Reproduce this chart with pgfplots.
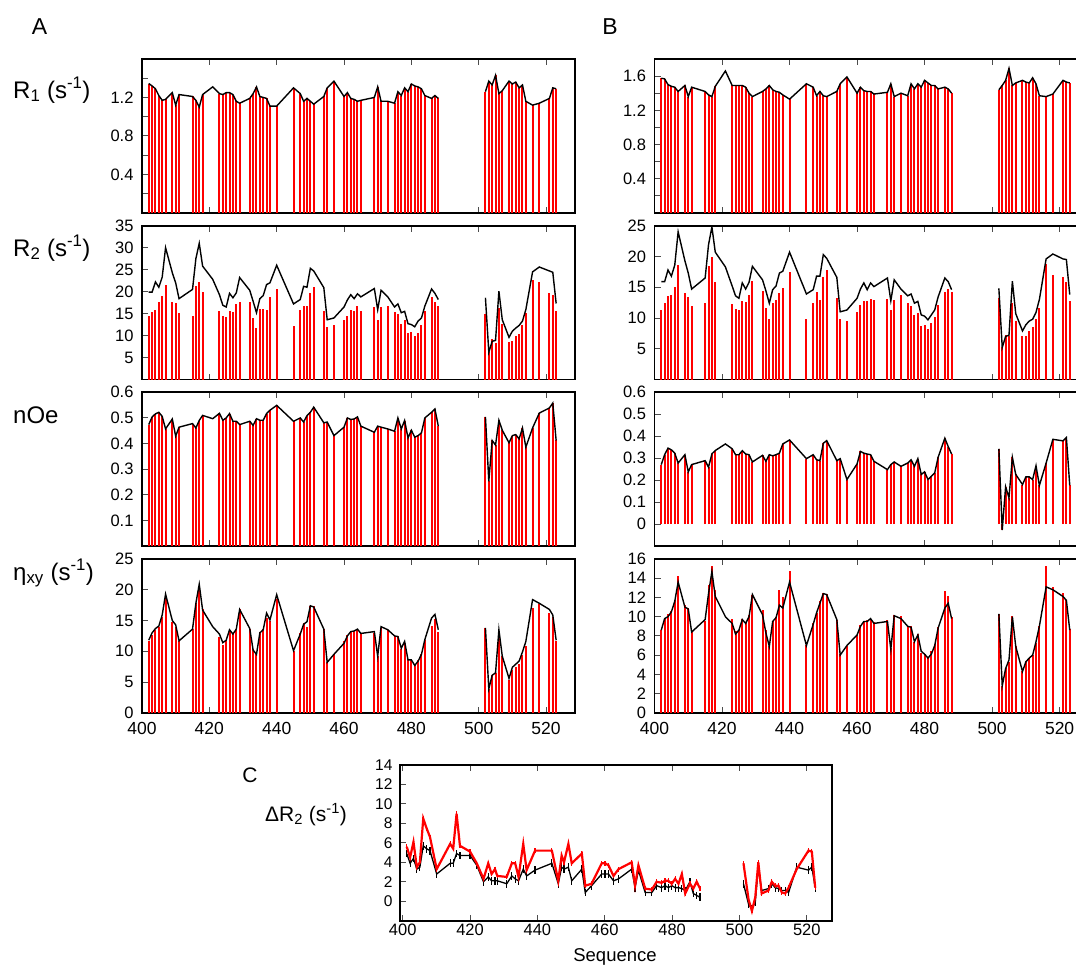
\documentclass[border=0pt]{standalone}
\usepackage{pgfplots}
\pgfplotsset{compat=1.18}
\usepackage{pgfplotstable}
\usepackage{fontspec}
\setmainfont{Liberation Sans}

\pgfplotstableread{
res R1A R2Ab R2Al nOeA EtaAb EtaAl R1B R2Bb R2Bl nOeB EtaBb EtaBl
402 1.345 14.4 19.9 0.474 11.6 11.8 1.575 11.3 15.9 0.271 8.6 8.6
403 1.32 15.4 19.9 0.504 12.6 13.0 1.567 12.4 15.9 0.316 9.8 9.8
404 1.29 15.9 22.2 0.516 13.5 13.7 1.50 13.6 17.8 0.346 10.3 10.0
405 1.22 17.7 21.0 0.522 13.9 14.1 1.48 13.8 16.8 0.338 10.6 10.5
406 1.17 19.1 23.3 0.506 15.5 15.9 1.47 15.0 18.6 0.323 11.7 11.6
407 1.18 21.6 30.0 0.457 18.9 19.3 1.42 18.6 24.0 0.278 14.2 13.6
409 1.25 17.6 24.3 0.496 14.7 15.0 1.49 14.0 19.3 0.316 11.2 11.0
410 1.12 17.4 22.0 0.429 14.0 14.3 1.36 13.4 17.3 0.238 10.9 10.8
411 1.23 15.2 18.4 0.464 11.6 11.7 1.47 12.0 14.7 0.271 8.5 8.4
415 1.21 14.4 20.5 0.478 13.6 13.6 1.42 12.5 16.5 0.289 9.6 9.7
416 1.17 21.2 27.5 0.461 17.8 17.8 1.38 18.4 21.9 0.259 13.3 12.4
417 1.10 22.2 31.0 0.490 20.5 20.9 1.36 19.9 24.8 0.320 15.3 14.7
418 1.23 19.9 25.8 0.510 16.8 16.7 1.48 15.9 20.7 0.335 12.8 12.1
421 1.31 nan 22.8 0.497 nan 14.0 1.66 nan 18.3 0.365 nan 10.0
423 1.24 15.6 19.3 0.518 12.3 12.8 1.49 12.2 15.2 0.343 9.8 9.3
424 1.23 14.4 16.9 0.491 11.0 11.4 1.49 11.5 13.6 0.316 8.5 8.2
425 1.25 14.2 16.5 0.500 11.9 11.8 1.49 11.3 13.2 0.316 8.6 8.6
426 1.25 15.7 19.6 0.517 13.5 13.5 1.49 12.8 15.7 0.334 9.8 9.7
427 1.23 15.3 18.6 0.487 12.9 12.8 1.47 12.6 14.7 0.319 9.4 9.3
428 1.16 17.1 19.7 0.487 13.6 13.6 1.40 13.7 15.8 0.316 10.2 10.0
429 1.14 17.7 23.2 0.474 16.8 16.8 1.36 16.0 18.4 0.283 12.3 12.3
432 1.19 17.7 20.3 0.487 13.7 13.7 1.42 14.4 16.2 0.313 10.7 10.2
433 1.24 13.9 17.8 0.471 10.3 10.2 1.45 11.6 14.4 0.286 8.6 8.3
434 1.31 11.7 15.2 0.497 9.5 9.5 1.49 9.8 12.4 0.316 6.9 6.9
435 1.21 16.1 18.4 0.491 13.2 13.0 1.44 12.5 14.6 0.311 9.5 9.5
436 1.20 16.1 19.1 0.491 13.7 13.5 1.42 13.0 15.2 0.316 10.0 9.9
437 1.19 15.9 21.6 0.517 15.4 16.2 1.41 14.1 17.3 0.323 12.8 11.2
438 1.11 18.7 22.0 0.530 15.0 15.1 1.38 14.8 17.6 0.365 12.0 10.9
440 1.11 20.7 26.0 0.549 18.5 19.2 1.33 17.4 20.7 0.383 14.8 13.6
445 1.30 12.1 17.2 0.487 10.1 10.1 1.51 9.8 13.9 0.298 7.1 7.0
447 1.24 15.9 18.2 0.500 12.9 12.8 1.47 12.5 14.6 0.316 9.3 9.2
448 1.16 16.8 21.2 0.484 14.6 14.4 1.37 14.3 16.8 0.293 10.4 10.4
449 1.19 16.7 21.0 0.509 13.9 14.8 1.42 12.9 16.8 0.289 11.6 11.4
450 1.16 19.7 25.3 0.522 17.3 17.4 1.37 16.7 20.3 0.368 12.5 12.4
451 1.13 21.0 24.7 0.542 17.3 17.2 1.36 17.8 19.7 0.380 12.4 12.3
454 1.21 15.7 20.9 0.481 13.6 13.6 1.42 13.3 16.6 0.289 9.7 9.7
455 1.30 12.0 13.6 0.484 8.2 8.2 1.51 9.8 11.0 0.298 6.1 6.0
457 1.37 12.3 14.0 0.431 9.5 9.5 1.59 9.5 11.3 0.203 7.0 7.0
460 1.21 13.5 16.5 0.464 11.7 11.3 1.40 11.0 13.2 0.274 8.1 8.1
461 1.25 14.4 18.1 0.500 12.6 12.5 1.47 12.1 14.7 0.331 9.1 9.0
462 1.19 15.8 19.3 0.494 13.3 13.2 1.43 12.8 15.7 0.323 9.5 9.5
463 1.18 15.5 18.4 0.496 13.3 13.3 1.42 12.8 14.6 0.319 9.7 9.5
464 1.16 16.8 19.5 0.504 13.5 13.6 1.42 13.1 15.7 0.316 9.8 9.8
465 1.17 15.7 18.8 0.468 12.9 12.9 1.39 12.9 15.1 0.286 9.4 9.3
469 1.20 16.5 20.7 0.444 13.0 13.2 1.41 13.1 16.5 0.248 9.7 9.5
470 1.31 13.6 15.9 0.468 9.2 9.2 1.51 11.3 12.8 0.271 6.7 6.6
471 1.16 16.5 20.3 0.464 13.8 14.0 1.36 12.9 16.2 0.283 10.2 10.1
473 1.16 16.8 18.8 0.457 13.5 13.5 1.40 13.8 14.7 0.263 10.1 9.8
475 1.14 15.3 16.5 0.448 12.5 12.5 1.37 12.5 13.6 0.278 9.0 9.0
476 1.26 15.0 17.2 0.500 12.5 12.4 1.51 12.0 13.9 0.293 9.0 8.9
477 1.22 12.7 15.2 0.457 10.3 10.5 1.45 10.5 12.4 0.263 7.4 7.4
478 1.30 13.5 15.5 0.490 11.3 11.6 1.51 10.8 12.7 0.298 8.2 8.1
479 1.26 10.6 12.7 0.422 8.7 8.6 1.47 8.7 10.5 0.226 6.2 6.4
480 1.34 10.8 12.5 0.452 8.6 8.6 1.55 8.9 10.3 0.238 6.1 6.1
481 1.32 10.0 12.0 0.425 7.8 7.7 1.52 8.2 9.7 0.203 5.7 5.7
482 1.31 10.6 13.3 0.431 8.6 8.4 1.49 9.2 10.5 0.218 6.4 6.1
483 1.29 12.3 14.0 0.442 9.6 9.5 1.49 10.1 11.3 0.233 7.2 7.0
484 1.22 15.5 16.7 0.500 11.8 11.9 1.45 12.1 13.4 0.304 8.9 8.8
486 1.19 18.8 20.6 0.522 14.1 15.4 1.47 14.3 16.5 0.391 12.7 10.9
487 1.22 17.6 19.6 0.535 15.2 16.0 1.45 14.7 15.9 0.353 12.2 11.4
488 1.19 16.8 18.2 0.468 13.2 13.5 1.40 14.2 14.6 0.319 10.0 9.8
495 nan nan nan nan nan nan nan nan nan nan nan nan
502 1.26 15.0 18.6 0.504 13.8 13.8 1.44 13.3 14.8 0.343 10.3 10.3
503 1.37 6.2 6.2 0.253 3.9 3.9 1.49 5.3 5.2 -0.027 2.8 2.8
504 1.33 9.3 8.7 0.412 6.1 6.1 1.55 7.2 7.0 0.170 4.7 4.6
505 1.43 8.3 8.9 0.394 6.4 6.5 1.69 7.0 7.2 0.120 5.3 5.5
506 1.24 16.3 20.1 0.491 13.3 13.5 1.49 12.5 16.0 0.304 10.1 10.0
507 1.27 12.7 13.6 0.452 9.2 9.2 1.52 9.5 10.7 0.226 6.9 6.9
509 1.37 8.5 9.6 0.403 5.4 5.6 1.55 7.0 7.9 0.180 4.3 4.3
510 1.34 8.8 11.0 0.431 7.0 7.4 1.53 7.1 8.9 0.215 5.4 5.3
511 1.36 9.8 11.7 0.435 7.5 7.9 1.52 7.9 9.5 0.215 5.7 5.7
512 1.30 10.4 12.3 0.418 8.0 8.4 1.58 8.6 9.8 0.203 6.0 6.0
513 1.33 12.3 13.3 0.461 9.4 9.9 1.51 9.8 10.9 0.266 7.3 7.4
514 1.16 15.2 15.9 0.386 10.8 11.6 1.37 11.7 13.0 0.176 9.0 9.0
516 1.12 22.6 24.5 0.461 17.0 18.4 1.36 18.8 19.6 0.278 15.3 13.1
518 1.14 22.2 25.6 0.519 17.7 17.8 1.39 17.0 20.4 0.386 13.1 12.8
521 1.19 19.6 24.7 0.539 16.2 16.8 1.55 16.6 19.6 0.379 12.5 12.1
522 1.30 19.3 24.4 0.558 15.6 15.9 1.53 15.8 19.5 0.394 11.7 11.7
523 1.29 15.7 17.3 0.412 11.6 11.8 1.52 12.7 13.8 0.176 8.7 8.6
}\dataAB

\pgfplotstableread{
x red black
401.2 5.6 4.9
402.2 4.5 3.9
403.2 6.1 4.4
404.2 3.5 3.3
405.1 4.0 3.5
406.1 8.5 5.7
407.1 7.5 5.4
408.1 6.6 5.2
410.1 3.3 2.8
414.1 5.9 3.9
415.0 5.4 3.9
416.0 9.0 4.9
417.0 5.7 4.7
420.0 5.1 4.7
422.0 3.9 3.7
424.0 2.3 2.0
425.4 3.9 2.5
426.4 2.8 2.1
427.4 3.3 2.1
428.1 2.6 2.1
430.9 2.5 1.8
432.4 3.9 2.6
433.4 3.9 2.3
434.4 2.5 2.1
435.8 5.9 3.3
436.8 3.2 2.6
439.3 5.2 3.2
444.3 5.2 3.9
446.2 2.1 1.8
447.2 4.7 3.5
447.9 4.0 3.3
449.2 5.9 3.5
450.2 3.9 2.1
453.2 4.9 3.3
454.2 1.6 0.9
456.1 1.8 1.6
459.1 3.9 2.8
460.1 3.9 2.8
461.1 3.7 2.8
462.6 2.6 2.1
464.1 3.3 2.3
468.0 4.0 3.3
469.0 1.6 1.4
470.0 3.7 3.2
472.0 1.3 0.9
474.0 1.2 0.9
475.4 2.0 1.6
476.9 1.9 1.4
477.9 2.1 1.6
478.9 2.1 1.4
479.9 1.8 1.6
480.9 2.3 1.4
481.9 1.8 1.4
482.9 2.8 1.3
483.9 0.8 1.1
485.3 1.8 2.0
486.3 1.3 0.8
487.3 2.0 0.6
488.3 1.3 0.4
495.0 nan nan
501.2 3.9 1.8
502.7 0.2 -0.3
503.7 -1.0 -0.8
504.7 0.4 -0.1
505.6 4.0 3.5
506.6 0.8 1.1
508.6 1.1 1.3
509.6 2.0 1.8
510.6 1.6 1.4
511.6 1.6 1.3
512.6 0.9 1.1
513.6 0.8 1.1
514.6 1.4 0.9
517.0 3.3 3.5
520.5 5.2 3.2
521.5 5.1 3.5
522.5 1.4 1.4
}\dataC

\pgfplotsset{
  panel/.style={
    scale only axis, height=153.8pt, anchor=north west,
    xmin=400, xtick={400,420,...,520},
    xtick pos=both, ytick pos=left, tick align=inside,
    major tick length=6pt, minor tick length=6pt,
    axis line style={line width=1.8pt},
    tick style={line width=0.9pt, black!70},
    /pgf/number format/assume math mode=true,
    yticklabel style={font=\fontsize{16.5}{18}\selectfont, xshift=-5pt},
    xticklabel style={font=\fontsize{17.5}{20}\selectfont},
  },
  colA/.style={panel, width=433pt, xmax=528.6},
  colB/.style={panel, width=422pt, xmax=525},
  nolab/.style={xticklabels={}},
  bars/.style={ycomb, red, line width=2pt, x filter/.expression={x==421 ? nan : x}},
  ln/.style={black, line width=1.4pt, unbounded coords=jump},
}

\begin{document}
\begin{tikzpicture}
\path[use as bounding box] (0,0) rectangle (1076pt,-966pt);

% ---------- Column A ----------
\begin{axis}[colA, nolab, at={(142pt,-59pt)}, ymin=0, ymax=1.6,
  ytick={0.4,0.8,1.2}, minor ytick={0.2,0.6,1.0,1.4},
  yticklabels={0.4,0.8,1.2}]
\addplot[bars] table[x=res,y=R1A]{\dataAB};
\addplot[ln] table[x=res,y=R1A]{\dataAB};
\end{axis}

\begin{axis}[colA, nolab, at={(142pt,-225.7pt)}, ymin=0, ymax=35,
  ytick={5,10,...,35}]
\addplot[bars] table[x=res,y=R2Ab]{\dataAB};
\addplot[ln] table[x=res,y=R2Al]{\dataAB};
\end{axis}

\begin{axis}[colA, nolab, at={(142pt,-392.3pt)}, ymin=0, ymax=0.6,
  ytick={0.1,0.2,0.3,0.4,0.5,0.6}, yticklabels={0.1,0.2,0.3,0.4,0.5,0.6}]
\addplot[bars] table[x=res,y=nOeA]{\dataAB};
\addplot[ln] table[x=res,y=nOeA]{\dataAB};
\end{axis}

\begin{axis}[colA, at={(142pt,-559pt)}, ymin=0, ymax=25,
  ytick={0,5,...,25}, xticklabel style={yshift=-6pt}]
\addplot[bars] table[x=res,y=EtaAb]{\dataAB};
\addplot[ln] table[x=res,y=EtaAl]{\dataAB};
\end{axis}

% ---------- Column B ----------
\begin{axis}[colB, nolab, at={(654.5pt,-59pt)}, ymin=0, ymax=1.8,
  ytick={0.4,0.8,1.2,1.6}, minor ytick={0.2,0.6,1.0,1.4},
  yticklabels={0.4,0.8,1.2,1.6}]
\addplot[bars] table[x=res,y=R1B]{\dataAB};
\addplot[ln] table[x=res,y=R1B]{\dataAB};
\end{axis}

\begin{axis}[colB, nolab, at={(654.5pt,-225.7pt)}, ymin=0, ymax=25,
  ytick={5,10,...,25}]
\addplot[bars] table[x=res,y=R2Bb]{\dataAB};
\addplot[ln] table[x=res,y=R2Bl]{\dataAB};
\end{axis}

\begin{axis}[colB, nolab, at={(654.5pt,-392.3pt)}, ymin=-0.1, ymax=0.6,
  ytick={0,0.1,0.2,0.3,0.4,0.5,0.6}, yticklabels={0,0.1,0.2,0.3,0.4,0.5,0.6}]
\addplot[bars] table[x=res,y=nOeB]{\dataAB};
\addplot[ln] table[x=res,y=nOeB]{\dataAB};
\end{axis}

\begin{axis}[colB, at={(654.5pt,-559pt)}, ymin=0, ymax=16,
  ytick={0,2,...,16}, xticklabel style={yshift=-6pt}]
\addplot[bars] table[x=res,y=EtaBb]{\dataAB};
\addplot[ln] table[x=res,y=EtaBl]{\dataAB};
\end{axis}

% ---------- Panel C ----------
\begin{axis}[scale only axis, anchor=north west, at={(400pt,-765pt)},
  width=431.7pt, height=155.7pt, xmin=399.2, xmax=527.4, ymin=-2, ymax=14,
  xtick={400,420,...,520}, ytick={0,2,...,14},
  xtick pos=both, ytick pos=left, tick align=inside,
  major tick length=6pt,
  axis line style={line width=1.8pt},
  tick style={line width=0.9pt, black!70},
  /pgf/number format/assume math mode=true,
  yticklabel style={font=\fontsize{15.5}{17}\selectfont, xshift=-4pt},
  xticklabel style={font=\fontsize{16.5}{18}\selectfont}]
\addplot[black, line width=1.3pt, unbounded coords=jump,
  error bars/.cd, y dir=both, y fixed=0.4, error mark=none,
  error bar style={line width=1.2pt}] table[x=x,y=black]{\dataC};
\addplot[red, line width=2.2pt, unbounded coords=jump,
  error bars/.cd, y dir=both, y fixed=0.25, error mark=none,
  error bar style={line width=1.2pt}] table[x=x,y=red]{\dataC};
\end{axis}

% ---------- Texts ----------
\node[font=\fontsize{23}{26}\selectfont] at (39.5pt,-27pt) {A};
\node[font=\fontsize{23}{26}\selectfont] at (610pt,-27pt) {B};
\node[font=\fontsize{21}{24}\selectfont] at (250pt,-775pt) {C};
\node[anchor=base west, inner sep=0pt, font=\fontsize{24}{28}\selectfont] at (13pt,-98pt) {R\textsubscript{1} (s\textsuperscript{-1})};
\node[anchor=base west, inner sep=0pt, font=\fontsize{24}{28}\selectfont] at (13pt,-256pt) {R\textsubscript{2} (s\textsuperscript{-1})};
\node[anchor=base west, inner sep=0pt, font=\fontsize{24}{28}\selectfont] at (13pt,-423pt) {nOe};
\node[anchor=base west, inner sep=0pt, font=\fontsize{24}{28}\selectfont] at (13pt,-580pt) {η\textsubscript{xy} (s\textsuperscript{-1})};
\node[anchor=base west, inner sep=0pt, font=\fontsize{21}{24}\selectfont] at (265pt,-821pt) {ΔR\textsubscript{2} (s\textsuperscript{-1})};
\node[anchor=base, inner sep=0pt, font=\fontsize{18.5}{22}\selectfont] at (615pt,-961pt) {Sequence};
\end{tikzpicture}
\end{document}
